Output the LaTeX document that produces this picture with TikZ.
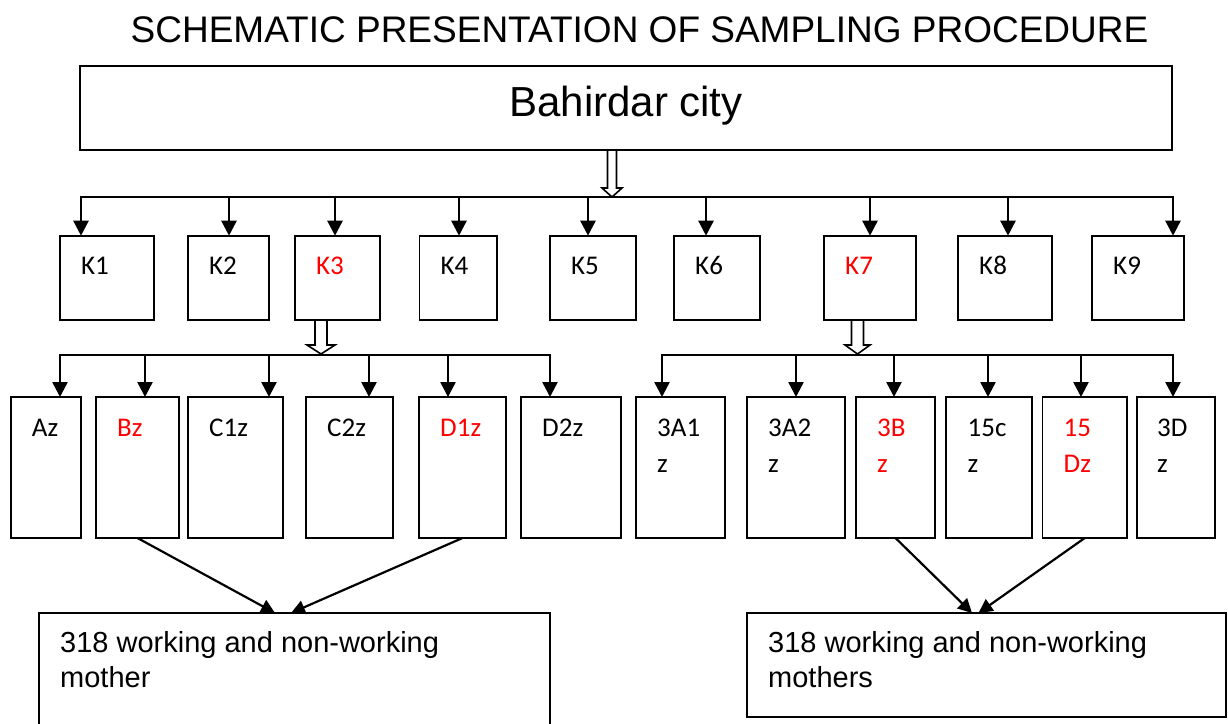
\documentclass[tikz,border=0pt]{standalone}
\usepackage{fontspec}
\setmainfont{Liberation Sans}
\newfontfamily\calib{Carlito}
\usetikzlibrary{arrows.meta}
\begin{document}
\begin{tikzpicture}[x=1pt,y=-1pt,
  box/.style={draw,line width=1.8pt,anchor=north west,inner sep=0pt,outer sep=0pt},
  con/.style={line width=2.5pt,line cap=rect},
  arr/.style={line width=2.5pt,-{Triangle[length=15pt,width=15pt]}},
  darr/.style={line width=2.2pt,-{Triangle[length=14pt,width=14pt]}},
  hol/.style={draw,fill=white,line width=1.6pt,line join=miter},
  klab/.style={anchor=base west,inner sep=0pt,font=\calib\fontsize{27}{32}\selectfont},
  blab/.style={anchor=base west,inner sep=0pt,font=\fontsize{29}{34}\selectfont},
]
\clip (0,0) rectangle (1228,723);
\fill[white] (0,0) rectangle (1228,723);

% title
\node[anchor=base,inner sep=0pt,font=\fontsize{37}{44}\selectfont] (title) at (639.5,42) {SCHEMATIC PRESENTATION OF SAMPLING PROCEDURE};

% city
\node[box,minimum width=1092pt,minimum height=84pt] (city) at (80,66) {};
\node[anchor=base,inner sep=0pt,font=\fontsize{42}{50}\selectfont] (citylab) at (626,116) {Bahirdar city};

% K boxes
\node[box,minimum width=94pt,minimum height=84.3pt] (K1) at (60,235.7) {};
\node[box,minimum width=81pt,minimum height=84.3pt] (K2) at (188,235.7) {};
\node[box,minimum width=85pt,minimum height=84.3pt] (K3) at (295,235.7) {};
\node[box,minimum width=77.5pt,minimum height=84.3pt] (K4) at (419.5,235.7) {};
\node[box,minimum width=86pt,minimum height=84.3pt] (K5) at (550,235.7) {};
\node[box,minimum width=86pt,minimum height=84.3pt] (K6) at (674,235.7) {};
\node[box,minimum width=92pt,minimum height=84.3pt] (K7) at (824,235.7) {};
\node[box,minimum width=94pt,minimum height=84.3pt] (K8) at (958,235.7) {};
\node[box,minimum width=92pt,minimum height=84.3pt] (K9) at (1092,235.7) {};

\node[klab] (K1t) at (81,274) {K1};
\node[klab] (K2t) at (209,274) {K2};
\node[klab,text=red] (K3t) at (316,274) {K3};
\node[klab] (K4t) at (440.5,274) {K4};
\node[klab] (K5t) at (571,274) {K5};
\node[klab] (K6t) at (695,274) {K6};
\node[klab,text=red] (K7t) at (845,274) {K7};
\node[klab] (K8t) at (979,274) {K8};
\node[klab] (K9t) at (1113,274) {K9};

% bus 1
\coordinate (a1) at (81,197);
\coordinate (a2) at (229,197);
\coordinate (a3) at (335,197);
\coordinate (a4) at (459,197);
\coordinate (a5) at (588,197);
\coordinate (a6) at (706,197);
\coordinate (a7) at (870,197);
\coordinate (a8) at (1008,197);
\coordinate (a9) at (1173,197);
\draw[con] (a1) -- (a9);
\foreach \i in {1,...,9} {\draw[arr] (a\i) -- (a\i |- K\i.north);}
\draw[hol] (607.5,150) -- (607.5,188) -- (602,188) -- (612,197) -- (622,188) -- (616.5,188) -- (616.5,150) -- cycle;

% second-level boxes
\node[box,minimum width=70.3pt,minimum height=141pt] (Az) at (10.7,397) {};
\node[box,minimum width=83pt,minimum height=141pt] (Bz) at (96,397) {};
\node[box,minimum width=95pt,minimum height=141pt] (C1z) at (188,397) {};
\node[box,minimum width=87pt,minimum height=141pt] (C2z) at (306,397) {};
\node[box,minimum width=87pt,minimum height=141pt] (D1z) at (419,397) {};
\node[box,minimum width=100pt,minimum height=141pt] (D2z) at (521,397) {};
\node[box,minimum width=89pt,minimum height=141pt] (A31z) at (636,397) {};
\node[box,minimum width=98pt,minimum height=141pt] (A32z) at (747,397) {};
\node[box,minimum width=79pt,minimum height=141pt] (B3z) at (856,397) {};
\node[box,minimum width=86pt,minimum height=141pt] (c15z) at (946,397) {};
\node[box,minimum width=84.5pt,minimum height=141pt] (D15z) at (1042.5,397) {};
\node[box,minimum width=78pt,minimum height=141pt] (D3z) at (1137,397) {};

\node[klab] (Azt) at (31.7,436) {Az};
\node[klab,text=red] (Bzt) at (117,436) {Bz};
\node[klab] (C1zt) at (209,436) {C1z};
\node[klab] (C2zt) at (327,436) {C2z};
\node[klab,text=red] (D1zt) at (440,436) {D1z};
\node[klab] (D2zt) at (542,436) {D2z};
\node[klab] (A31t) at (657,436) {3A1};
\node[klab] (A31u) at (657,472) {z};
\node[klab] (A32t) at (768,436) {3A2};
\node[klab] (A32u) at (768,472) {z};
\node[klab,text=red] (B3t) at (877,436) {3B};
\node[klab,text=red] (B3u) at (877,472) {z};
\node[klab] (c15t) at (967.5,436) {15c};
\node[klab] (c15u) at (967.5,472) {z};
\node[klab,text=red] (D15t) at (1063.5,436) {15};
\node[klab,text=red] (D15u) at (1063.5,472) {Dz};
\node[klab] (D3t) at (1157,436) {3D};
\node[klab] (D3u) at (1157,472) {z};

% bus 2 (left)
\coordinate (b1) at (60,355);
\coordinate (b2) at (145,355);
\coordinate (b3) at (269,355);
\coordinate (b4) at (369,355);
\coordinate (b5) at (448,355);
\coordinate (b6) at (550,355);
\draw[con] (b1) -- (b6);
\draw[arr] (b1) -- (b1 |- Az.north);
\draw[arr] (b2) -- (b2 |- Bz.north);
\draw[arr] (b3) -- (b3 |- C1z.north);
\draw[arr] (b4) -- (b4 |- C2z.north);
\draw[arr] (b5) -- (b5 |- D1z.north);
\draw[arr] (b6) -- (b6 |- D2z.north);
\draw[hol] (315,320) -- (315,345) -- (307,345) -- (321,354) -- (335,345) -- (327,345) -- (327,320) -- cycle;

% bus 2 (right)
\coordinate (c1) at (662,355);
\coordinate (c2) at (796,355);
\coordinate (c3) at (894,355);
\coordinate (c4) at (988,355);
\coordinate (c5) at (1081,355);
\coordinate (c6) at (1173,355);
\draw[con] (c1) -- (c6);
\draw[arr] (c1) -- (c1 |- A31z.north);
\draw[arr] (c2) -- (c2 |- A32z.north);
\draw[arr] (c3) -- (c3 |- B3z.north);
\draw[arr] (c4) -- (c4 |- c15z.north);
\draw[arr] (c5) -- (c5 |- D15z.north);
\draw[arr] (c6) -- (c6 |- D3z.north);
\draw[hol] (851.5,320) -- (851.5,345) -- (845,345) -- (857.5,354) -- (870,345) -- (863.5,345) -- (863.5,320) -- cycle;

% bottom boxes
\node[box,minimum width=511pt,minimum height=130pt] (M1) at (39,613) {};
\node[box,minimum width=479pt,minimum height=104pt] (M2) at (747,613) {};
\node[blab] (M1a) at (60,652) {318 working and non-working};
\node[blab] (M1b) at (60,687) {mother};
\node[blab] (M2a) at (768,652) {318 working and non-working};
\node[blab] (M2b) at (768,687) {mothers};

\draw[darr] (Bz.south) -- ([xshift=-19.5pt]M1.north);
\draw[darr] (D1z.south) -- ([xshift=-3.5pt]M1.north);
\draw[darr] (B3z.south) -- ([xshift=-14.5pt]M2.north);
\draw[darr] (D15z.south) -- ([xshift=-8pt]M2.north);
\end{tikzpicture}
\end{document}
